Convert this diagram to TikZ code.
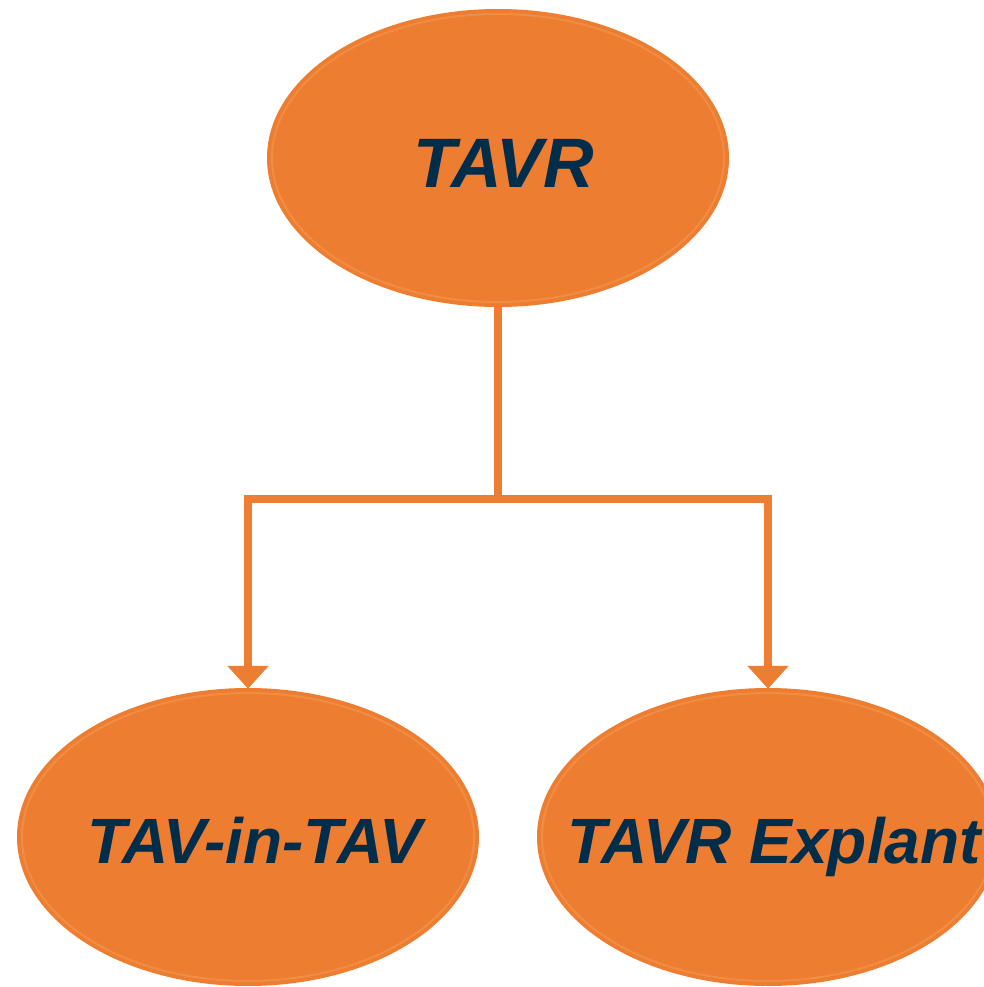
\documentclass[tikz,border=0pt]{standalone}
\usepackage{fontspec}
\setmainfont{Liberation Sans}
\usetikzlibrary{shapes.geometric,arrows.meta}
\definecolor{orng}{HTML}{ED7D31}
\definecolor{rim}{HTML}{F8A05A}
\definecolor{navy}{HTML}{002D4A}
\tikzset{
  blob/.style={ellipse, fill=orng, inner sep=0pt, minimum width=462pt, minimum height=298pt},
  rimline/.style={rim, line width=2pt, opacity=0.45},
  lbl/.style={text=navy, font=\fontsize{70}{80}\selectfont\bfseries\itshape, inner sep=0pt, anchor=base},
  lbls/.style={lbl, font=\fontsize{64}{72}\selectfont\bfseries\itshape},
  conn/.style={orng, line width=8pt, line join=miter},
  arr/.style={conn, -{Triangle[width=40pt,length=23pt]}}
}
\begin{document}
\begin{tikzpicture}[x=1pt,y=-1pt]
\useasboundingbox (0,0) rectangle (984,987);
\clip (0,0) rectangle (984,987);
\node[blob] (top) at (498,158) {};
\node[blob] (left) at (248,837) {};
\node[blob] (right) at (768,837) {};
\draw[rimline] (498,158) ellipse [x radius=226, y radius=144];
\draw[rimline] (248,837) ellipse [x radius=226, y radius=144];
\draw[rimline] (768,837) ellipse [x radius=226, y radius=144];
\node[lbl] (ttop) at (504,187) {TAVR};
\node[lbls] (tleft) at (255,863) {TAV-in-TAV};
\node[lbls] (tright) at (774,863) {TAVR Explant};
\coordinate (j) at (498,499);
\draw[conn] (top.south) -- (j);
\draw[arr] (j) -| ([yshift=-1pt]left.north);
\draw[arr] (j) -| ([yshift=-1pt]right.north);
\end{tikzpicture}
\end{document}
